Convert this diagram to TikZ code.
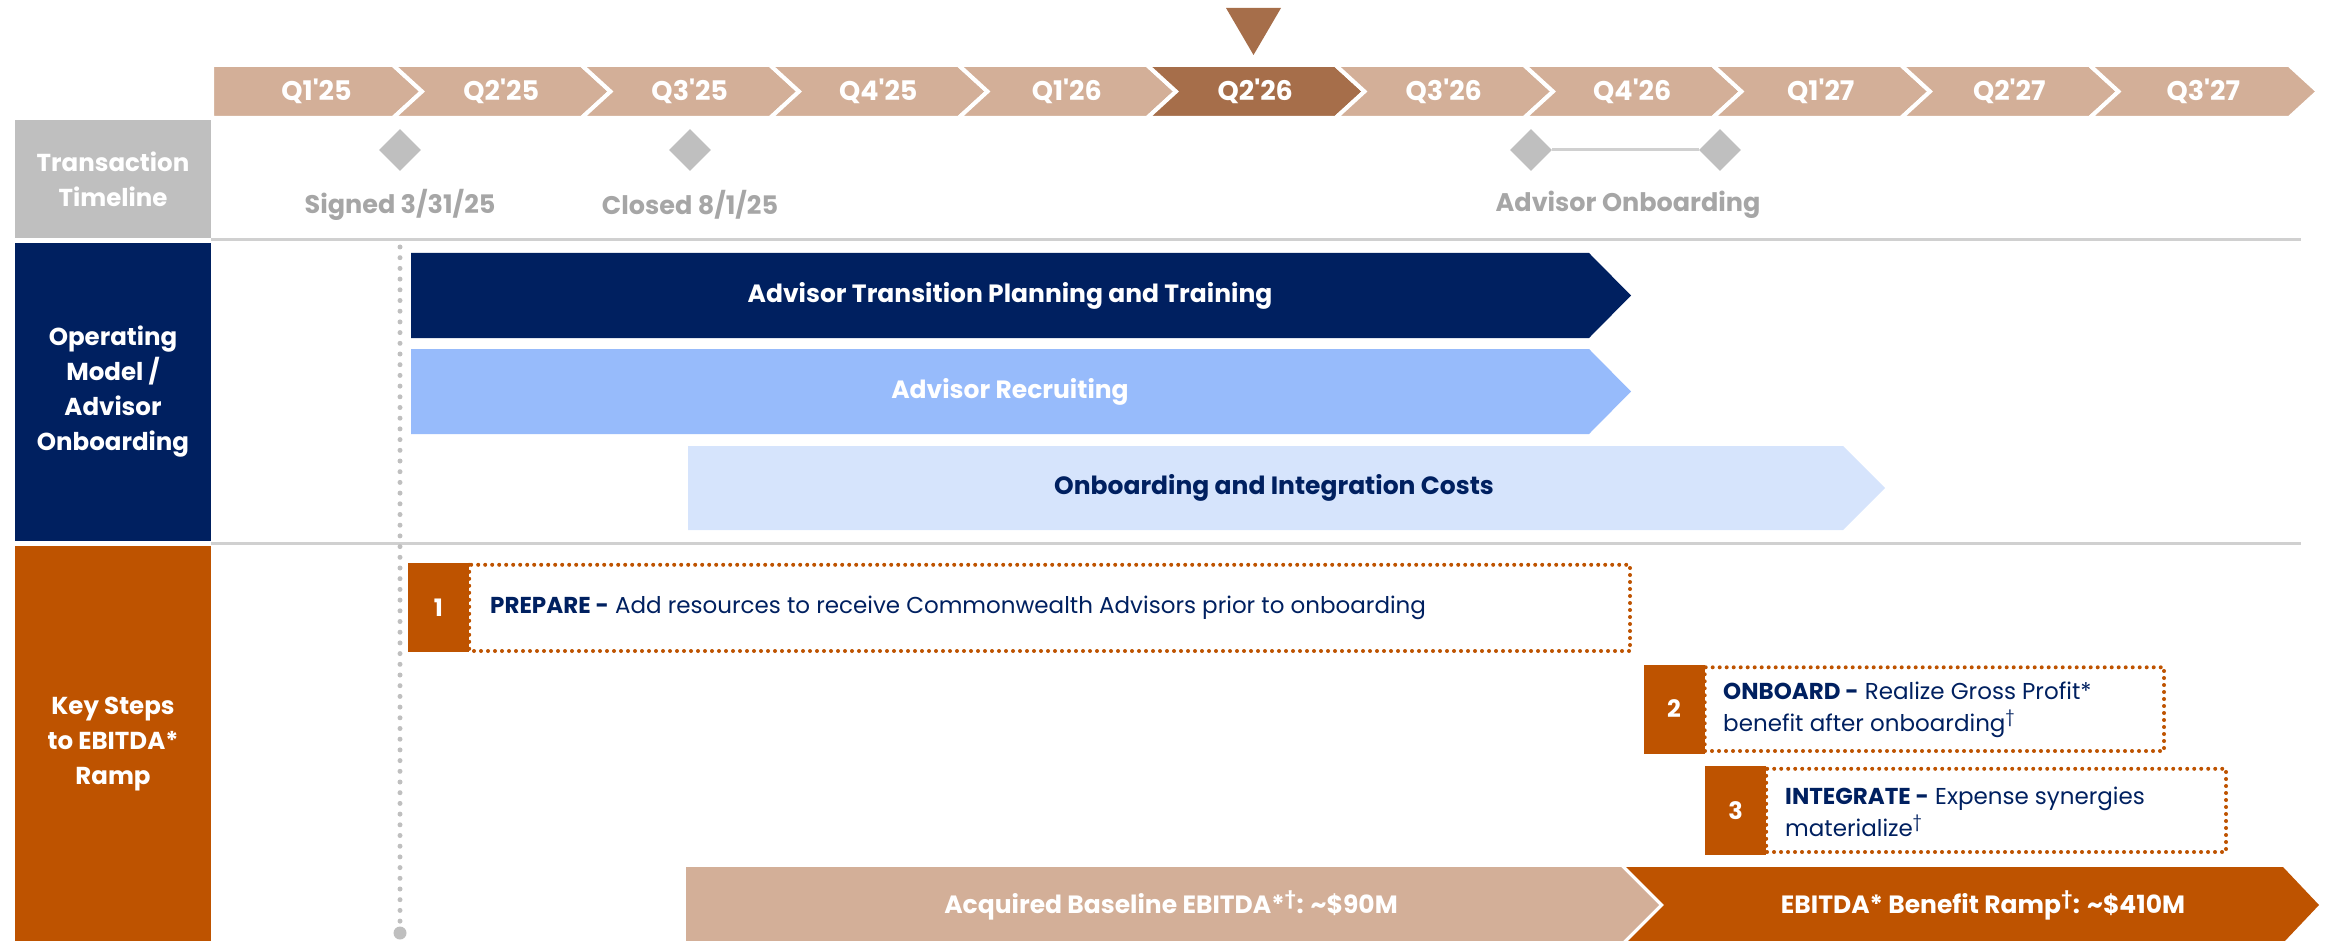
\documentclass[tikz,border=0pt]{standalone}
\usepackage{fontspec}
\setmainfont{Poppins}[Ligatures=TeXOff]
\usetikzlibrary{shapes.geometric}

\definecolor{cTan}{HTML}{D3AF98}
\definecolor{cRust}{HTML}{A66E4A}
\definecolor{cNavy}{HTML}{002060}
\definecolor{cSky}{HTML}{97BBFB}
\definecolor{cPale}{HTML}{D6E4FC}
\definecolor{cOrange}{HTML}{BE5300}
\definecolor{cGrey}{HTML}{BFBFBF}
\definecolor{cLabel}{HTML}{A6A6A6}
\definecolor{cRule}{HTML}{D0D0D0}

\begin{document}
\begin{tikzpicture}[x=1pt,y=-1pt,
    hdr/.style={text=white, font=\fontsize{24.5}{35}\selectfont\bfseries, align=center, inner sep=0pt, minimum width=196pt},
    qlabel/.style={text=white, font=\fontsize{27}{30}\selectfont\bfseries},
    milestone/.style={diamond, fill=cGrey, minimum width=42pt, minimum height=42pt, inner sep=0pt},
    mslabel/.style={text=cLabel, font=\fontsize{25.5}{30}\selectfont\bfseries},
    barlabel/.style={font=\fontsize{25}{30}\selectfont\bfseries},
    stepnum/.style={fill=cOrange, text=white, font=\fontsize{24}{28}\selectfont\bfseries, inner sep=0pt, minimum width=61pt, minimum height=89pt},
    steptext/.style={anchor=west, text=cNavy, align=left, font=\fontsize{23}{32}\selectfont, inner sep=0pt},
    stepframe/.style={draw=cOrange, line width=4pt, line cap=round, dash pattern=on 0pt off 7pt},
    rule/.style={draw=cRule, line width=3pt}]

  \useasboundingbox (0,0) rectangle (2328,941);

  \foreach \q/\col [count=\i from 0] in {Q1'25/cTan,Q2'25/cTan,Q3'25/cTan,Q4'25/cTan,Q1'26/cTan,Q2'26/cRust,Q3'26/cTan,Q4'26/cTan,Q1'27/cTan,Q2'27/cTan,Q3'27/cTan}{
    \pgfmathsetmacro\xl{\i==0 ? 212 : 204.5+188.5*\i}
    \pgfmathsetmacro\xr{\i==10 ? 2289 : 393+188.5*\i}
    \pgfmathsetmacro\dl{\i==0 ? 0 : 29}
    \fill[\col, draw=white, line width=4pt] (\xl,65) -- (\xr,65) -- (\xr+29,91.5) -- (\xr,118) -- (\xl,118) -- (\xl+\dl,91.5) -- cycle;
    \node[qlabel] (q\i) at ({(\xl+\xr)/2+14},91.5) {\q};
  }
  \fill[cRust] (1226,8) -- (1281,8) -- (1253.5,55) -- cycle;

  \node[hdr, fill=cGrey, minimum height=118pt] (tt) at (113,179) {Transaction\\Timeline};
  \node[hdr, fill=cNavy, minimum height=298pt] (om) at (113,392) {Operating\\Model /\\Advisor\\Onboarding};
  \node[hdr, fill=cOrange, minimum height=397pt] (ks) at (113,744.5) {Key Steps\\to EBITDA*\\Ramp};

  \draw[rule] (211,240) -- (2301,240);
  \draw[rule] (211,543) -- (2301,543);

  \begin{scope}[every node/.style={milestone}]
    \node (signed) at (400,150) {};
    \node (closed) at (690,150) {};
    \node (ob1) at (1531,150) {};
    \node (ob2) at (1720,150) {};
  \end{scope}
  \draw[cRule, line width=3pt] (ob1) -- (ob2);

  \begin{scope}[every node/.style={mslabel}]
    \node (signedlbl) at (400,205) {Signed 3/31/25};
    \node (closedlbl) at (690,205) {Closed 8/1/25};
    \node (oblbl) at (1628,205) {Advisor Onboarding};
  \end{scope}

  \coordinate (dtop) at (400,247);
  \node[circle, fill=cGrey, inner sep=0pt, minimum size=13pt] (dend) at (400,933) {};
  \draw[cGrey, line width=5pt, line cap=round, dash pattern=on 0pt off 10.7pt] (dtop) -- (dend);

  \fill[cNavy] (411,253) -- (1589,253) -- (1631,295.5) -- (1589,338) -- (411,338) -- cycle;
  \fill[cSky] (411,349) -- (1589,349) -- (1631,391.5) -- (1589,434) -- (411,434) -- cycle;
  \fill[cPale] (688,446) -- (1843,446) -- (1885,488) -- (1843,530) -- (688,530) -- cycle;
  \node[barlabel, text=white] (atp) at (1010,296) {Advisor Transition Planning and Training};
  \node[barlabel, text=white] (rec) at (1010,392) {Advisor Recruiting};
  \node[barlabel, text=cNavy] (oic) at (1274,488) {Onboarding and Integration Costs};

  \node[stepnum] (n1) at (438.5,607.5) {1};
  \node[stepnum] (n2) at (1674,709) {2};
  \node[stepnum] (n3) at (1735.5,810.5) {3};
  \draw[stepframe] (n1.north east) ++(0,2) rectangle (1630,651);
  \draw[stepframe] (n2.north east) ++(0,3) rectangle (2164,751);
  \draw[stepframe] (n3.north east) ++(0,3) rectangle (2226,852);
  \node[steptext] (s1) at (490,607.5) {\textbf{PREPARE -} Add resources to receive Commonwealth Advisors prior to onboarding};
  \node[steptext] (s2) at (1723,710) {\textbf{ONBOARD -} Realize Gross Profit*\\benefit after onboarding\textsuperscript{†}};
  \node[steptext] (s3) at (1785,812) {\textbf{INTEGRATE -} Expense synergies\\materialize\textsuperscript{†}};

  \fill[cTan] (686,867) -- (1621,867) -- (1659,905) -- (1621,943) -- (686,943) -- cycle;
  \fill[cOrange] (1626,867) -- (2283,867) -- (2319,905) -- (2283,943) -- (1626,943) -- (1664,905) -- cycle;
  \node[barlabel, text=white] (base) at (1171,905) {Acquired Baseline EBITDA*\textsuperscript{†}: \textasciitilde\$90M};
  \node[barlabel, text=white] (ramp) at (1983,905) {EBITDA* Benefit Ramp\textsuperscript{†}: \textasciitilde\$410M};

\end{tikzpicture}
\end{document}
